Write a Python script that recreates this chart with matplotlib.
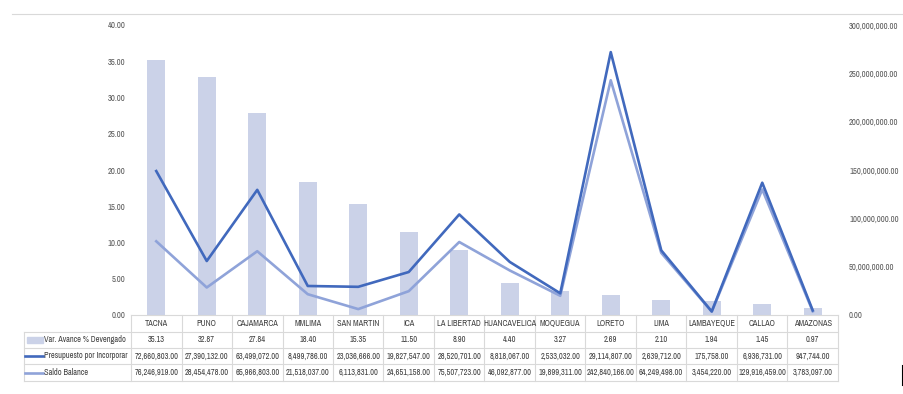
import matplotlib.pyplot as plt
import matplotlib.transforms as mtransforms
from matplotlib.lines import Line2D
from matplotlib.patches import Rectangle
import numpy as np

plt.rcParams['font.family'] = ['Archivo Narrow', 'Liberation Sans Narrow', 'DejaVu Sans']

# datos de la tabla
regiones = ['TACNA', 'PUNO', 'CAJAMARCA', 'MMLIMA', 'SAN MARTIN', 'ICA', 'LA LIBERTAD',
            'HUANCAVELICA', 'MOQUEGUA', 'LORETO', 'LIMA', 'LAMBAYEQUE', 'CALLAO', 'AMAZONAS']
avance = [35.13, 32.87, 27.84, 18.40, 15.35, 11.50, 8.90, 4.40, 3.27, 2.69, 2.10, 1.94, 1.45, 0.97]
presupuesto = [72660803.00, 27390132.00, 63499072.00, 8499786.00, 23036666.00, 19827547.00,
               28520701.00, 8818067.00, 2533032.00, 29114807.00, 2639712.00, 175758.00,
               6936731.00, 947744.00]
saldo = [76246919.00, 28454478.00, 65966803.00, 21518037.00, 6113831.00, 24651158.00,
         75507723.00, 46092877.00, 19899311.00, 242840166.00, 64249498.00, 3454220.00,
         129916459.00, 3783097.00]
nombres = ['Var. Avance % Devengado', 'Presupuesto por Incorporar', 'Saldo Balance']

c_barra = '#CBD2E8'
c_osc = '#4169BD'
c_cla = '#8FA3D9'
c_borde = '#D9D9D9'
c_txt = '#404040'

W, H = 904, 394
fig = plt.figure(figsize=(W / 100, H / 100), dpi=100)

def fx(px):
    return px / W

def fy(py):
    return 1 - py / H

ax = fig.add_axes([fx(131), fy(315), fx(838) - fx(131), fy(25) - fy(315)])
x = np.arange(len(regiones))
ax.bar(x, avance, width=0.36, color=c_barra, zorder=1)
ax.set_xlim(-0.5, len(regiones) - 0.5)
ax.set_ylim(0, 40)
ax.set_yticks(np.arange(0, 41, 5))
ax.set_yticklabels(['%.2f' % v for v in np.arange(0, 41, 5)])
ax.set_xticks([])
for s in ax.spines.values():
    s.set_visible(False)
ax.tick_params(axis='y', length=0, pad=4, labelsize=6.2, labelcolor='#595959')

ax2 = ax.twinx()
# linea apilada: presupuesto sobre saldo
apilado = np.array(presupuesto) + np.array(saldo)
ax2.plot(x, apilado, color=c_osc, lw=1.9, zorder=3)
ax2.plot(x, saldo, color=c_cla, lw=1.9, zorder=2)
ax2.set_ylim(0, 300e6)
ax2.set_yticks(np.arange(0, 301e6, 50e6))
ax2.set_yticklabels(['{:,.2f}'.format(v) for v in np.arange(0, 301e6, 50e6)])
for s in ax2.spines.values():
    s.set_visible(False)
ax2.tick_params(axis='y', length=0, pad=8, labelsize=6.2, labelcolor='#595959')

# tabla de datos
tr = mtransforms.blended_transform_factory(ax.transData, fig.transFigure)
filas = [315, 332, 348, 364, 381]
n = len(regiones)
fig.add_artist(Line2D([-0.5, n - 0.5], [fy(filas[0])] * 2, transform=tr, color=c_borde, lw=0.8))
for r in filas[1:]:
    fig.add_artist(Line2D([fx(24), fx(838)], [fy(r)] * 2, color=c_borde, lw=0.8))
for i in range(n + 1):
    fig.add_artist(Line2D([i - 0.5, i - 0.5], [fy(315), fy(381)], transform=tr, color=c_borde, lw=0.8))
fig.add_artist(Line2D([fx(24), fx(24)], [fy(332), fy(381)], color=c_borde, lw=0.8))

valores = [['%.2f' % v for v in avance],
           ['{:,.2f}'.format(v) for v in presupuesto],
           ['{:,.2f}'.format(v) for v in saldo]]
for i, reg in enumerate(regiones):
    fig.text(i, fy(323.5), reg, transform=tr, ha='center', va='center', fontsize=6.0, color=c_txt)
    for k in range(3):
        yc = fy((filas[k + 1] + filas[k + 2]) / 2)
        fig.text(i, yc, valores[k][i], transform=tr, ha='center', va='center', fontsize=6.0, color=c_txt)

# leyenda en la tabla
for k in range(3):
    yc = fy((filas[k + 1] + filas[k + 2]) / 2)
    if k == 0:
        fig.add_artist(Rectangle((fx(27), yc - 3 / H), fx(16), 6 / H, color=c_barra))
    else:
        fig.add_artist(Line2D([fx(25), fx(43)], [yc, yc], color=[c_osc, c_cla][k - 1], lw=1.9))
    fig.text(fx(44), yc, nombres[k], ha='left', va='center', fontsize=6.0, color=c_txt)

# borde superior y marca
fig.add_artist(Line2D([fx(12), 1], [fy(14), fy(14)], color='#D9D9D9', lw=0.8))
fig.add_artist(Line2D([fx(903), fx(903)], [fy(366), fy(385)], color='black', lw=1.5))

fig.savefig('out.png', dpi=100)
